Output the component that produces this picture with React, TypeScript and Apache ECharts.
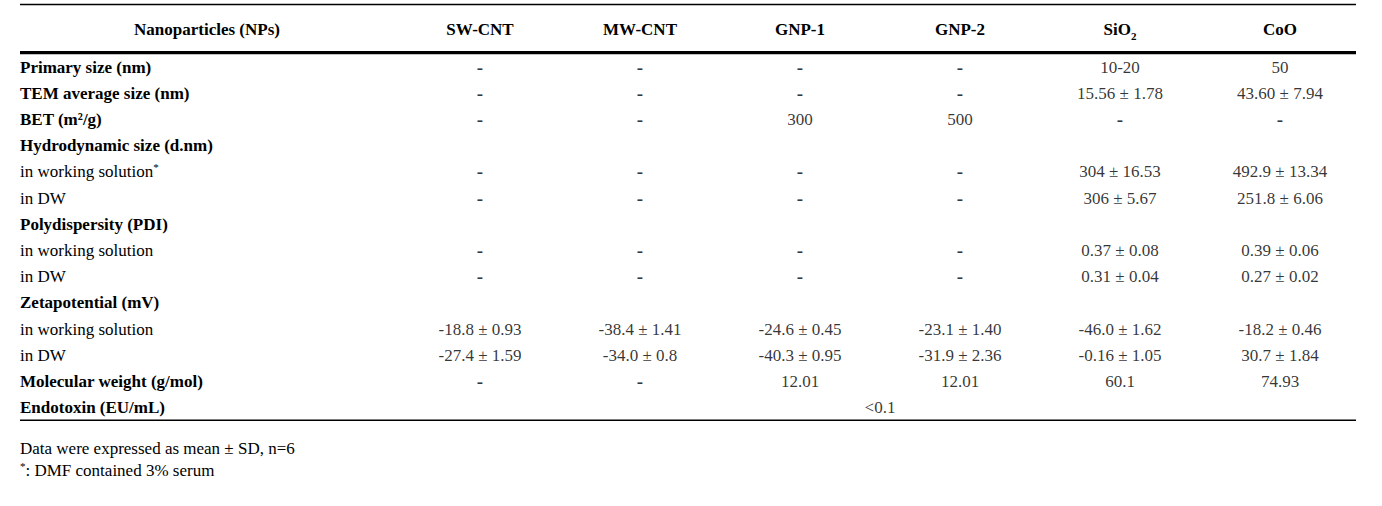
import React, { useEffect, useRef } from "react";
import * as echarts from "echarts";

const FONT = '"Liberation Serif", "Times New Roman", Times, serif';

// Table header (columns)
const nanoparticles = ["SW-CNT", "MW-CNT", "GNP-1", "GNP-2", "SiO2", "CoO"];

// Row labels
const rowLabels = [
  "Primary size (nm)",
  "TEM average size (nm)",
  "BET (m²/g)",
  "Hydrodynamic size (d.nm)",
  "in working solution",
  "in DW",
  "Polydispersity (PDI)",
  "in working solution",
  "in DW",
  "Zetapotential (mV)",
  "in working solution",
  "in DW",
  "Molecular weight (g/mol)",
  "Endotoxin (EU/mL)",
];
const rowBold = [true, true, true, true, false, false, true, false, false, true, false, false, true, true];
const rowNote = ["", "", "", "", "*", "", "", "", "", "", "", "", "", ""];

// Cell values per nanoparticle column (null = empty cell)
const swCnt = ["-", "-", "-", null, "-", "-", null, "-", "-", null, "-18.8 ± 0.93", "-27.4 ± 1.59", "-", null];
const mwCnt = ["-", "-", "-", null, "-", "-", null, "-", "-", null, "-38.4 ± 1.41", "-34.0 ± 0.8", "-", null];
const gnp1 = ["-", "-", "300", null, "-", "-", null, "-", "-", null, "-24.6 ± 0.45", "-40.3 ± 0.95", "12.01", null];
const gnp2 = ["-", "-", "500", null, "-", "-", null, "-", "-", null, "-23.1 ± 1.40", "-31.9 ± 2.36", "12.01", null];
const sio2 = ["10-20", "15.56 ± 1.78", "-", null, "304 ± 16.53", "306 ± 5.67", null, "0.37 ± 0.08", "0.31 ± 0.04", null, "-46.0 ± 1.62", "-0.16 ± 1.05", "60.1", null];
const coo = ["50", "43.60 ± 7.94", "-", null, "492.9 ± 13.34", "251.8 ± 6.06", null, "0.39 ± 0.06", "0.27 ± 0.02", null, "-18.2 ± 0.46", "30.7 ± 1.84", "74.93", null];
const columns = [swCnt, mwCnt, gnp1, gnp2, sio2, coo];

// Shared (merged) endotoxin cell
const endotoxin = "<0.1";
const endotoxinRow = 13;

const headerTitle = "Nanoparticles (NPs)";
const footnotes = ["Data were expressed as mean ± SD, n=6", ": DMF contained 3% serum"];

export default function App() {
  const ref = useRef<HTMLDivElement>(null);

  useEffect(() => {
    document.body.style.margin = "0";
    if (!ref.current) return;
    const chart = echarts.init(ref.current, null, { renderer: "svg" });

    const baseText = { fontFamily: FONT, fontSize: 17, color: "#000" };

    const cellSeries = columns.map((col, k) => ({
      type: "scatter",
      name: nanoparticles[k],
      symbolSize: 0.1,
      itemStyle: { color: "transparent" },
      silent: true,
      data: col
        .map((v, i) => (v === null ? null : { name: v, value: [k, i] }))
        .filter((d) => d !== null),
      label: {
        show: true,
        position: "inside",
        ...baseText,
        formatter: (p: any) => (p.name === "-" ? "{d|-}" : "{v|" + p.name + "}"),
        rich: {
          d: { ...baseText, fontSize: 19, fontWeight: "bold" },
          v: { ...baseText },
        },
      },
    }));

    const option: any = {
      animation: false,
      backgroundColor: "#fff",
      grid: {
        left: 400,
        width: 960,
        top: 54,
        height: 366.8,
        containLabel: false,
        outerBoundsMode: "none",
      },
      xAxis: {
        type: "category",
        position: "top",
        data: nanoparticles,
        axisLine: { show: false },
        axisTick: { show: false },
        splitLine: { show: false },
        axisLabel: {
          margin: 25,
          verticalAlign: "middle",
          interval: 0,
          ...baseText,
          fontWeight: "bold",
          formatter: (v: string) => (v === "SiO2" ? "{b|SiO}{sub|2}" : "{b|" + v + "}"),
          rich: {
            b: { ...baseText, fontWeight: "bold", lineHeight: 20 },
            sub: { ...baseText, fontWeight: "bold", fontSize: 11, verticalAlign: "bottom", lineHeight: 20, padding: [0, 0, -2, 0] },
          },
        },
      },
      yAxis: {
        type: "category",
        inverse: true,
        data: rowLabels,
        axisLine: { show: false },
        axisTick: { show: false },
        splitLine: { show: false },
        axisLabel: {
          align: "left",
          margin: 380,
          interval: 0,
          ...baseText,
          formatter: (v: string, i: number) => {
            const t = rowBold[i] ? "{b|" + v + "}" : "{n|" + v + "}";
            return rowNote[i] ? t + "{sup|" + rowNote[i] + "}" : t;
          },
          rich: {
            b: { ...baseText, fontWeight: "bold", lineHeight: 20 },
            n: { ...baseText, lineHeight: 20 },
            sup: { ...baseText, fontSize: 11, verticalAlign: "top", lineHeight: 20 },
          },
        },
      },
      series: [
        ...cellSeries,
        {
          type: "scatter",
          name: "Endotoxin",
          symbolSize: 0.1,
          itemStyle: { color: "transparent" },
          silent: true,
          data: [{ name: endotoxin, value: [2, endotoxinRow] }],
          label: {
            show: true,
            position: "inside",
            offset: [80, 0],
            ...baseText,
            formatter: (p: any) => p.name,
          },
        },
      ],
      graphic: [
        { type: "line", shape: { x1: 20, y1: 4.5, x2: 1356, y2: 4.5 }, style: { stroke: "#000", lineWidth: 1.4 } },
        { type: "line", shape: { x1: 20, y1: 52.7, x2: 1356, y2: 52.7 }, style: { stroke: "#000", lineWidth: 3.2 } },
        { type: "line", shape: { x1: 20, y1: 420.3, x2: 1356, y2: 420.3 }, style: { stroke: "#000", lineWidth: 1.5 } },
        {
          type: "text",
          x: 207,
          y: 29,
          style: { text: headerTitle, font: "bold 17px " + FONT, fill: "#000", align: "center", verticalAlign: "middle" },
        },
        {
          type: "text",
          x: 20,
          y: 448,
          style: { text: footnotes[0], font: "17px " + FONT, fill: "#000", align: "left", verticalAlign: "middle" },
        },
        {
          type: "text",
          x: 20,
          y: 470,
          style: {
            text: "{sup|*}{n|" + footnotes[1] + "}",
            font: "17px " + FONT,
            fill: "#000",
            align: "left",
            verticalAlign: "middle",
            rich: {
              sup: { fontFamily: FONT, fontSize: 11, fill: "#000", verticalAlign: "top", lineHeight: 20 },
              n: { fontFamily: FONT, fontSize: 17, fill: "#000", lineHeight: 20 },
            },
          },
        },
      ],
    };

    chart.setOption(option);
    return () => chart.dispose();
  }, []);

  return <div ref={ref} style={{ width: 1382, height: 506 }} />;
}
